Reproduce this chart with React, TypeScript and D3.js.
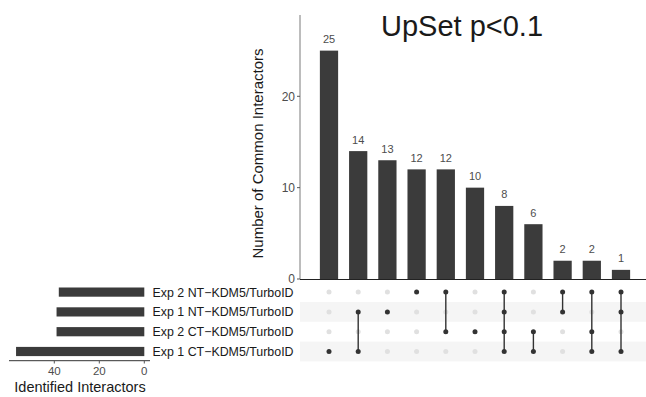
import React from 'react';
import * as d3 from 'd3';

// sets, top row first
const setNames = [
  'Exp 2 NT\u2212KDM5/TurboID',
  'Exp 1 NT\u2212KDM5/TurboID',
  'Exp 2 CT\u2212KDM5/TurboID',
  'Exp 1 CT\u2212KDM5/TurboID',
];
const setSizes = [38, 39, 39, 57];

const intersectionSizes = [25, 14, 13, 12, 12, 10, 8, 6, 2, 2, 1];
// which set rows take part in each intersection
const intersectionSets = [
  [3], [1, 3], [1], [0], [0, 2], [2], [0, 1, 2, 3], [2, 3], [0, 1], [0, 2, 3], [0, 1, 3],
];

const countTicks = [0, 10, 20];
const sizeTicks = [0, 20, 40];

const FONT = "'Liberation Sans', Arial, Helvetica, sans-serif";
const W = 646;
const H = 397;

export default function App() {
  const cols = intersectionSizes.map((_, i) => i);

  const x = d3.scaleBand<number>()
    .domain(cols)
    .range([314.4, 635.6])
    .paddingInner(0.375)
    .paddingOuter(0.1875);

  const y = d3.scaleLinear().domain([0, 28.9]).range([279, 15]);

  const rows = d3.scaleBand<number>()
    .domain(setNames.map((_, i) => i))
    .range([282.2, 361.4]);

  const sx = d3.scaleLinear().domain([0, 40]).range([144.3, 54.3]);

  const colCenter = (i: number) => (x(i) as number) + x.bandwidth() / 2;
  const rowCenter = (j: number) => (rows(j) as number) + rows.bandwidth() / 2;

  return (
    <svg width={W} height={H} style={{ position: 'absolute', left: 0, top: 0 }} fontFamily={FONT}>
      <rect width={W} height={H} fill="#fff" />

      {/* title */}
      <text x={462} y={36} textAnchor="middle" fontSize={29} fill="#1a1a1a">UpSet p&lt;0.1</text>

      {/* intersection bars */}
      {intersectionSizes.map((v, i) => (
        <g key={i}>
          <rect x={x(i)} y={y(v)} width={x.bandwidth()} height={y(0) - y(v)} fill="#3b3b3b" />
          <text x={colCenter(i)} y={y(v) - 7.5} textAnchor="middle" fontSize={11} fill="#4d4d4d">{v}</text>
        </g>
      ))}

      {/* y axis */}
      <line x1={300} x2={300} y1={15} y2={279} stroke="#7a7a7a" strokeWidth={1} />
      {countTicks.map(t => (
        <g key={t}>
          <line x1={297} x2={300} y1={y(t)} y2={y(t)} stroke="#555" />
          <text x={295} y={y(t)} dy="0.35em" textAnchor="end" fontSize={12} fill="#4d4d4d">{t}</text>
        </g>
      ))}
      <line x1={300} x2={W} y1={279.5} y2={279.5} stroke="#222" strokeWidth={1} />
      <text transform="translate(263,153.5) rotate(-90)" textAnchor="middle" fontSize={15} fill="#1a1a1a">
        Number of Common Interactors
      </text>

      {/* matrix stripes */}
      {setNames.map((_, j) => j % 2 === 1 ? (
        <rect key={j} x={300} y={rows(j)} width={W - 300} height={rows.bandwidth()} fill="#f5f5f5" />
      ) : null)}

      {/* matrix dots and lines */}
      {cols.map(i => {
        const members = intersectionSets[i];
        const ys = members.map(rowCenter);
        return (
          <g key={i}>
            {setNames.map((_, j) => (
              <circle key={j} cx={colCenter(i)} cy={rowCenter(j)} r={2.5}
                fill={members.includes(j) ? '#333' : '#e0e0e0'} />
            ))}
            {members.length > 1 && (
              <line x1={colCenter(i)} x2={colCenter(i)} y1={d3.min(ys)} y2={d3.max(ys)}
                stroke="#333" strokeWidth={1.4} />
            )}
          </g>
        );
      })}

      {/* set labels */}
      {setNames.map((n, j) => (
        <text key={n} x={152.5} y={rowCenter(j)} dy="0.36em" fontSize={12.4} fill="#1a1a1a">{n}</text>
      ))}

      {/* set size bars */}
      {setSizes.map((v, j) => (
        <rect key={j} x={sx(v)} y={rowCenter(j) - 4.6} width={sx(0) - sx(v)} height={9.2} fill="#3b3b3b" />
      ))}
      <line x1={9} x2={150} y1={360.7} y2={360.7} stroke="#333" strokeWidth={1} />
      {sizeTicks.map(t => (
        <g key={t}>
          <line x1={sx(t)} x2={sx(t)} y1={360.7} y2={363.5} stroke="#555" />
          <text x={sx(t)} y={374.5} textAnchor="middle" fontSize={11.5} fill="#4d4d4d">{t}</text>
        </g>
      ))}
      <text x={80} y={392} textAnchor="middle" fontSize={14.5} fill="#1a1a1a">Identified Interactors</text>
    </svg>
  );
}
